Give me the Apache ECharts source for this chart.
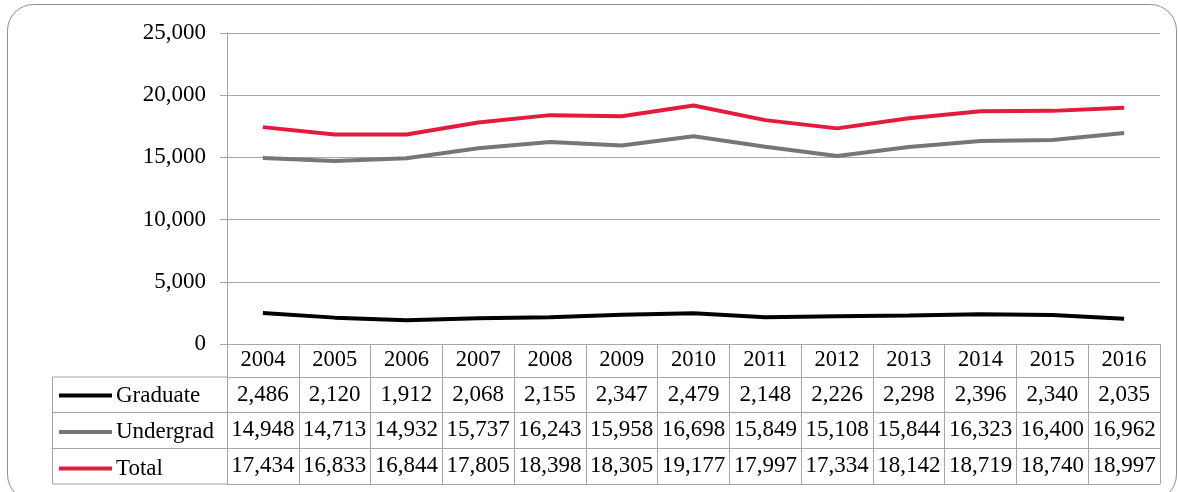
<!DOCTYPE html>
<html>
<head>
<meta charset="utf-8">
<script src="https://cdn.jsdelivr.net/npm/echarts@6/dist/echarts.min.js"></script>
<style>
html,body{margin:0;padding:0;background:#fff;}
#c{width:1178px;height:492px;}
</style>
</head>
<body>
<div id="c"></div>
<script>
var years = ['2004','2005','2006','2007','2008','2009','2010','2011','2012','2013','2014','2015','2016'];
var graduate = [2486,2120,1912,2068,2155,2347,2479,2148,2226,2298,2396,2340,2035];
var undergrad = [14948,14713,14932,15737,16243,15958,16698,15849,15108,15844,16323,16400,16962];
var total = [17434,16833,16844,17805,18398,18305,19177,17997,17334,18142,18719,18740,18997];
var seriesNames = ['Graduate','Undergrad','Total'];
var yTicks = {min:0, max:25000, interval:5000};

var FONT = 'Liberation Serif';
var FS = 23;
var GRID = '#a6a6a6';
var colors = ['#000000','#767676','#e31b3d'];

function fmt(v){ return v.toLocaleString('en-US'); }

var rowOffsets = [0, 33, 68, 104, 140];

function tableAxis(data, offset, showLabel){
  return {
    type:'category', data:data, position:'bottom', offset:offset, gridIndex:0,
    boundaryGap:true,
    axisLine:{show:true, lineStyle:{color:GRID, width:1}},
    axisTick:{show:false},
    axisLabel:{show:showLabel, interval:0, margin:6, color:'#000', fontFamily:FONT, fontSize:FS},
    splitLine:{show:false}
  };
}

var xAxes = [
  {
    type:'category', data:years, position:'bottom', gridIndex:0, boundaryGap:true,
    axisLine:{show:true, lineStyle:{color:GRID, width:1}},
    axisTick:{show:true, interval:0, length:140, lineStyle:{color:GRID, width:1}},
    axisLabel:{interval:0, margin:5, color:'#000', fontFamily:FONT, fontSize:22.5},
    splitLine:{show:false}
  },
  tableAxis(graduate.map(fmt), rowOffsets[1], true),
  tableAxis(undergrad.map(fmt), rowOffsets[2], true),
  tableAxis(total.map(fmt), rowOffsets[3], true),
  tableAxis(years, rowOffsets[4], false)
];

var chart = echarts.init(document.getElementById('c'), null, {renderer:'canvas'});
var lineW = 4;
chart.setOption({
  animation:false,
  backgroundColor:'#fff',
  grid:{left:227, right:18, top:33, bottom:148, containLabel:false},
  legend:{
    orient:'vertical', left:59, top:384, padding:0,
    itemWidth:53, itemHeight:4, itemGap:13.5, selectedMode:false,
    icon:'rect',
    textStyle:{fontFamily:FONT, fontSize:FS, color:'#000', lineHeight:22, padding:[0,0,0,-1]},
    data:seriesNames
  },
  xAxis:xAxes,
  yAxis:{
    type:'value', min:yTicks.min, max:yTicks.max, interval:yTicks.interval,
    axisLine:{show:true, lineStyle:{color:GRID}},
    axisTick:{show:true, length:7, lineStyle:{color:GRID}},
    axisLabel:{margin:21, color:'#000', fontFamily:FONT, fontSize:FS, formatter:function(v){return fmt(v);}},
    splitLine:{show:true, lineStyle:{color:GRID, width:1}}
  },
  graphic:[
    {type:'rect', shape:{x:7.5, y:4.5, width:1169, height:496, r:26}, style:{fill:'none', stroke:'#8c8c8c', lineWidth:1}, z:0},
    {type:'polyline', shape:{points:[[227,377],[52.5,377],[52.5,484],[227,484]]}, style:{fill:'none', stroke:GRID, lineWidth:1}, z:5},
    {type:'line', shape:{x1:52.5, y1:412.5, x2:227, y2:412.5}, style:{stroke:GRID, lineWidth:1}, z:5},
    {type:'line', shape:{x1:52.5, y1:448.5, x2:227, y2:448.5}, style:{stroke:GRID, lineWidth:1}, z:5}
  ],
  series:[
    {name:seriesNames[0], type:'line', data:graduate, showSymbol:false, symbol:'none', color:colors[0], lineStyle:{width:lineW, color:colors[0]}, z:3},
    {name:seriesNames[1], type:'line', data:undergrad, showSymbol:false, symbol:'none', color:colors[1], lineStyle:{width:lineW, color:colors[1]}, z:3},
    {name:seriesNames[2], type:'line', data:total, showSymbol:false, symbol:'none', color:colors[2], lineStyle:{width:lineW, color:colors[2]}, z:3}
  ]
});
</script>
</body>
</html>
